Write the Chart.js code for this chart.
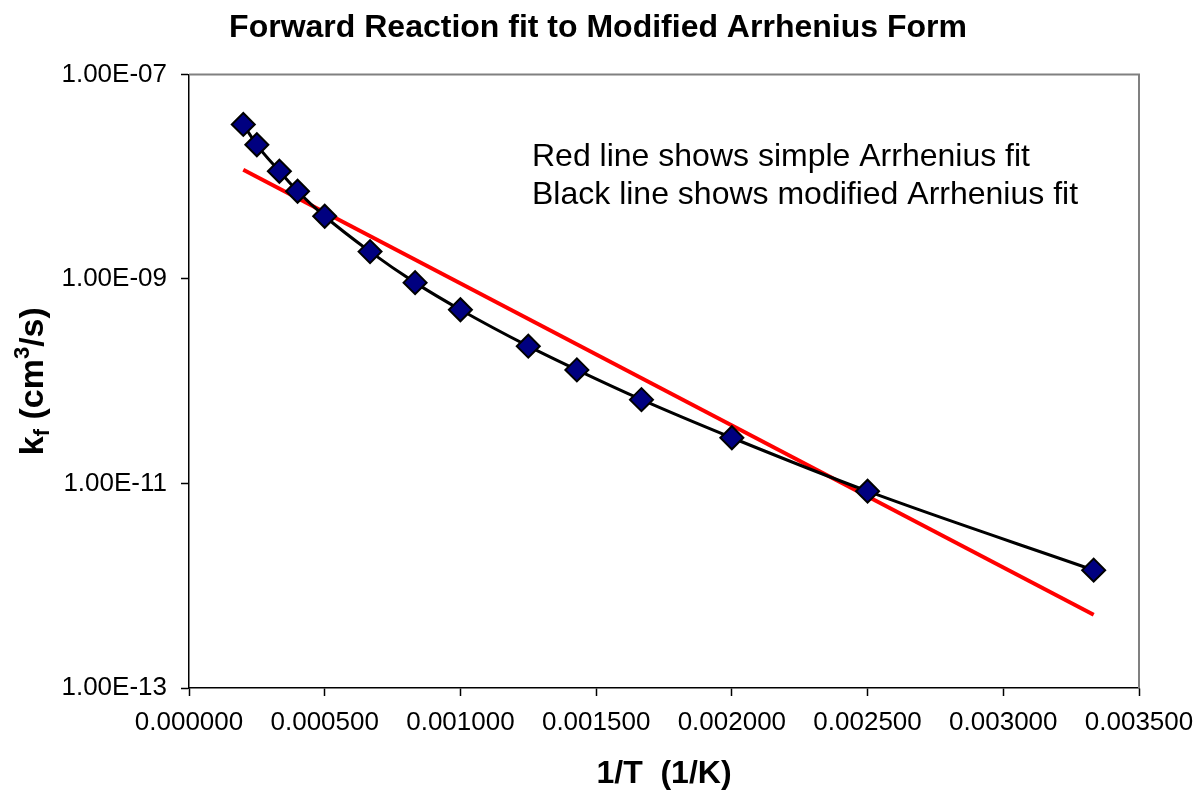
<!DOCTYPE html>
<html>
<head>
<meta charset="utf-8">
<title>Forward Reaction fit to Modified Arrhenius Form</title>
<script src="https://cdn.jsdelivr.net/npm/chart.js@4/dist/chart.umd.min.js"></script>
<style>
  html, body { margin: 0; padding: 0; background: #fff; }
</style>
</head>
<body>
<canvas id="rateChart" width="1196" height="794"></canvas>
<script>
// 1/T (1/K) of the measured points
const invT = [0.0002, 0.00025, 0.000333, 0.0004, 0.0005, 0.000667, 0.000833,
              0.001, 0.00125, 0.001429, 0.001667, 0.002, 0.0025, 0.003333];
// forward rate coefficient kf (cm^3/s)
const kf = [3.24e-8, 2.05e-8, 1.13e-8, 7.2e-9, 4.1e-9, 1.85e-9, 9.2e-10,
            5.0e-10, 2.2e-10, 1.29e-10, 6.6e-11, 2.8e-11, 8.4e-12, 1.42e-12];
// simple Arrhenius fit (red line) end points
const fitInvT = [0.0002, 0.003333];
const fitK = [1.17e-8, 5.2e-13];
// tick labels
const xTicks = [0, 0.0005, 0.001, 0.0015, 0.002, 0.0025, 0.003, 0.0035];
const yTicks = [1e-13, 1e-11, 1e-9, 1e-7];
const noteLines = ['Red line shows simple Arrhenius fit', 'Black line shows modified Arrhenius fit'];

const FONT = '"Liberation Sans", Arial, sans-serif';

// Excel style 1.00E-07
function sciLabel(v) {
  const e = Math.round(Math.log10(v));
  const m = v / Math.pow(10, e);
  const sign = e < 0 ? '-' : '';
  return m.toFixed(2) + 'E' + sign + String(Math.abs(e)).padStart(2, '0');
}

// gray frame, note text and y axis title (needs sub/superscript)
const extras = {
  id: 'extras',
  beforeDatasetsDraw(chart) {
    const { ctx, chartArea: a } = chart;
    ctx.save();
    ctx.strokeStyle = '#808080';
    ctx.lineWidth = 2;
    ctx.beginPath();
    ctx.moveTo(a.left, a.top);
    ctx.lineTo(a.right, a.top);
    ctx.lineTo(a.right, a.bottom);
    ctx.stroke();
    ctx.restore();
  },
  afterDraw(chart) {
    const { ctx, chartArea: a } = chart;
    ctx.save();
    ctx.fillStyle = '#000';
    ctx.textBaseline = 'alphabetic';
    ctx.font = '32px ' + FONT;
    ctx.fillText(noteLines[0], 532, 166);
    ctx.fillText(noteLines[1], 532, 204);

    // y title: k_f (cm^3/s)
    const parts = [
      { t: 'k', size: 34, dy: 0 },
      { t: 'f', size: 22, dy: 6 },
      { t: ' (cm', size: 34, dy: 0 },
      { t: '3', size: 22, dy: -14 },
      { t: '/s)', size: 34, dy: 0 }
    ];
    let total = 0;
    parts.forEach(p => {
      ctx.font = 'bold ' + p.size + 'px ' + FONT;
      p.w = ctx.measureText(p.t).width;
      total += p.w;
    });
    ctx.translate(43, (a.top + a.bottom) / 2);
    ctx.rotate(-Math.PI / 2);
    let x = -total / 2;
    parts.forEach(p => {
      ctx.font = 'bold ' + p.size + 'px ' + FONT;
      ctx.fillText(p.t, x, p.dy);
      x += p.w;
    });
    ctx.restore();
  }
};

const points = invT.map((x, i) => ({ x: x, y: kf[i] }));
const fitPoints = fitInvT.map((x, i) => ({ x: x, y: fitK[i] }));

new Chart(document.getElementById('rateChart'), {
  type: 'scatter',
  data: {
    datasets: [{
      label: 'kf',
      data: points,
      showLine: true,
      cubicInterpolationMode: 'monotone',
      borderColor: '#000',
      borderWidth: 3,
      pointStyle: 'rectRot',
      pointRadius: 11.5,
      pointBackgroundColor: '#000080',
      pointBorderColor: '#000',
      pointBorderWidth: 2
    }, {
      label: 'Arrhenius fit',
      data: fitPoints,
      showLine: true,
      borderColor: '#ff0000',
      borderWidth: 4,
      pointRadius: 0
    }]
  },
  options: {
    responsive: false,
    animation: false,
    events: [],
    layout: { padding: 0 },
    plugins: {
      legend: { display: false },
      tooltip: { enabled: false },
      title: {
        display: true,
        text: 'Forward Reaction fit to Modified Arrhenius Form',
        color: '#000',
        font: { family: FONT, size: 32, weight: 'bold' },
        padding: { top: 9, bottom: 27 }
      }
    },
    scales: {
      x: {
        type: 'linear',
        min: 0,
        max: 0.0035,
        afterBuildTicks: s => { s.ticks = xTicks.map(v => ({ value: v })); },
        afterFit: s => { s.height = 106; s.paddingRight = 57; },
        ticks: {
          color: '#000',
          font: { family: FONT, size: 26 },
          padding: 11,
          maxRotation: 0,
          callback: v => Number(v).toFixed(6)
        },
        grid: { drawOnChartArea: false, tickLength: 8, tickColor: '#000', tickWidth: 1.5 },
        border: { color: '#000', width: 1.5 },
        title: {
          display: true,
          text: '1/T  (1/K)',
          color: '#000',
          font: { family: FONT, size: 32, weight: 'bold' },
          padding: { top: 0, bottom: 1 }
        }
      },
      y: {
        type: 'logarithmic',
        min: 1e-13,
        max: 1e-7,
        afterBuildTicks: s => { s.ticks = yTicks.map(v => ({ value: v })); },
        afterFit: s => { s.width = 189; },
        ticks: {
          color: '#000',
          font: { family: FONT, size: 26 },
          padding: 14,
          callback: v => sciLabel(v)
        },
        grid: { drawOnChartArea: false, tickLength: 8, tickColor: '#000', tickWidth: 1.5 },
        border: { color: '#000', width: 1.5 }
      }
    }
  },
  plugins: [extras]
});
</script>
</body>
</html>
